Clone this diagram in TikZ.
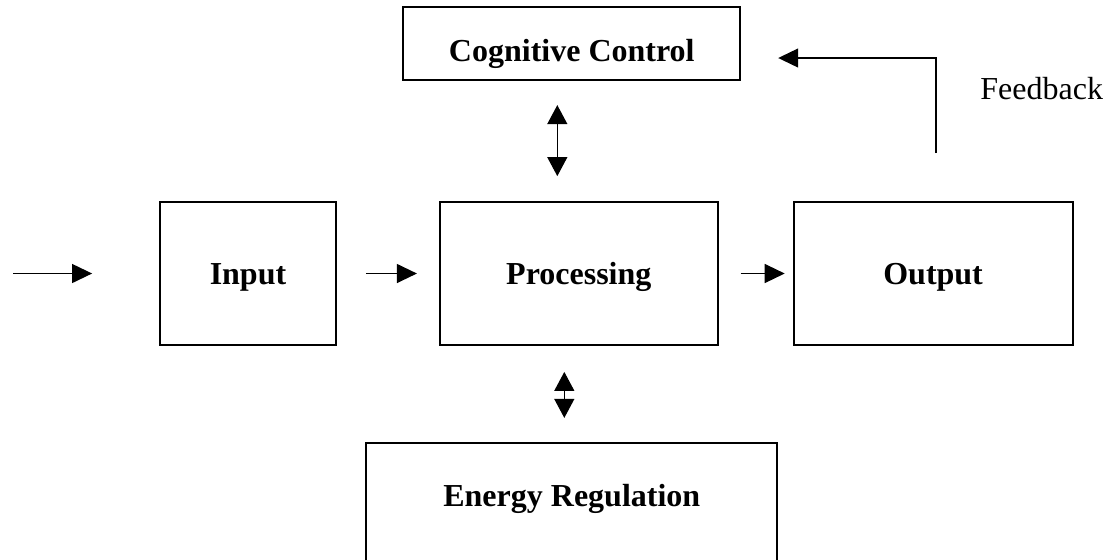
\documentclass[tikz,border=0pt]{standalone}
\usepackage{fontspec}
\setmainfont{Liberation Serif}
\usetikzlibrary{positioning, arrows.meta}
\tikzset{
x=0.5pt, y=-0.5pt, % one unit is one pixel of the layout
block/.style={draw, line width=0.9pt, minimum height=71.5pt, inner xsep=0pt, text height=11pt, text depth=0.5pt, font=\bfseries\fontsize{16}{19}\selectfont}, % sets the look of every box
link/.style={-{Triangle[length=10pt,width=9.5pt]}, line width=0.6pt}, % one-way arrows
twoway/.style={{Triangle[length=9.5pt,width=10pt]}-{Triangle[length=9.5pt,width=10pt]}, line width=0.6pt}, % two-way arrows
}

\begin{document}
\begin{tikzpicture}
    \clip (0,0) rectangle (1106,559);

    \node[block, minimum width=88pt] (IN) at (248,273.5) {Input};
    \node[block, minimum width=139pt, right=51pt of IN] (PROC) {Processing};
    \node[block, minimum width=139.5pt, right=37pt of PROC] (OUT) {Output};
    \node[block, minimum width=168.5pt, minimum height=36.5pt, text height=18pt, above=60pt of PROC, xshift=-3.5pt] (COG) {Cognitive Control};
    \node[block, minimum width=205.5pt, minimum height=0pt, inner ysep=0pt, text height=32pt, text depth=35pt, below=48pt of PROC, xshift=-3.5pt] (ENERGY) {Energy Regulation};

    \coordinate (START) at (13,273.5);
    \coordinate (FB) at (936,153);
    \coordinate (FBTOP) at (936,58);
    \node[anchor=base west, inner sep=0pt, font=\fontsize{16}{19}\selectfont] (FBTXT) at (980,99) {Feedback};

    \draw[link, shorten >=33.5pt] (START) -- (IN);
    \draw[link, shorten <=14.5pt, shorten >=11pt] (IN) -- (PROC);
    \draw[link, shorten <=11pt, shorten >=4pt] (PROC) -- (OUT);
    \draw[twoway, shorten <=12pt, shorten >=12.5pt] ([xshift=-7.25pt]COG.south) -- ([xshift=-7.25pt]COG.south |- PROC.north);
    \draw[twoway, shorten <=13pt, shorten >=12pt] ([xshift=-3.75pt]ENERGY.north |- PROC.south) -- ([xshift=-3.75pt]ENERGY.north);
    \draw[link, shorten >=18.5pt] (FB) -- (FBTOP) -- (FBTOP -| COG.east);
\end{tikzpicture}
\end{document}
